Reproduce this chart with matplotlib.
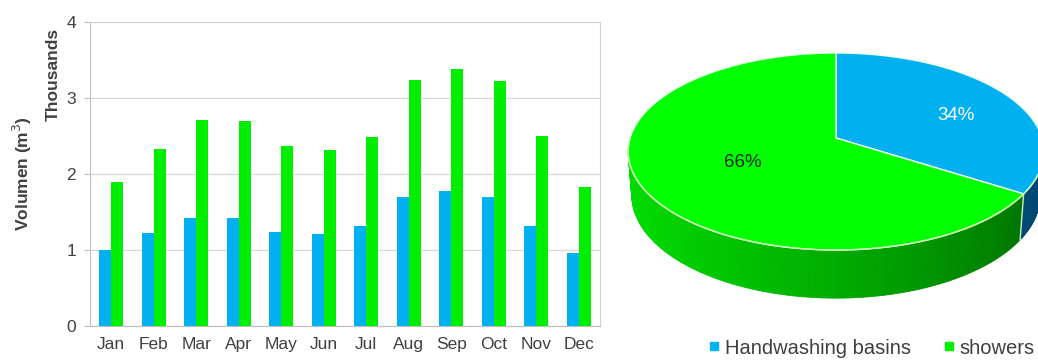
import matplotlib.pyplot as plt
import numpy as np
from matplotlib.lines import Line2D
from matplotlib.patches import Polygon

plt.rcParams["font.family"] = ["Liberation Sans", "DejaVu Sans"]

# %%
# Monthly volumes (thousands of m3).
months = ["Jan", "Feb", "Mar", "Apr", "May", "Jun", "Jul", "Aug", "Sep", "Oct", "Nov", "Dec"]
basins = [1.00, 1.22, 1.42, 1.42, 1.24, 1.21, 1.31, 1.70, 1.78, 1.70, 1.31, 0.96]
showers = [1.90, 2.33, 2.71, 2.70, 2.37, 2.31, 2.49, 3.24, 3.38, 3.22, 2.50, 1.83]

pie_labels = ["Handwashing basins", "showers"]
pie_shares = [34, 66]

BLUE = "#00b0f0"
GREEN = "#00ee00"
TXT = "#404040"

fig = plt.figure(figsize=(10.38, 3.6), dpi=100)

# %%
# Grouped bars.
ax = fig.add_axes([90 / 1038, 34 / 360, 510 / 1038, 304 / 360])
x = np.arange(len(months))
w = 0.28
ax.bar(x - w / 2, basins, w, color=BLUE, zorder=3)
ax.bar(x + w / 2, showers, w, color=GREEN, zorder=3)
ax.set_xlim(-0.5, len(months) - 0.5)
ax.set_ylim(0, 4)
ax.set_yticks([0, 1, 2, 3, 4])
ax.set_xticks(x, months)
ax.grid(axis="y", color="#d9d9d9", lw=0.9, zorder=0)
for sp in ax.spines.values():
    sp.set_color("#d0d0d0")
ax.spines["left"].set_color("#bfbfbf")
ax.spines["bottom"].set_color("#bfbfbf")
ax.tick_params(axis="y", length=4, color="#bfbfbf", labelsize=12.5, labelcolor=TXT, pad=6)
ax.tick_params(axis="x", length=0, labelsize=12.5, labelcolor=TXT, pad=8)
fig.text(53 / 1038, 1 - 74 / 360, "Thousands", rotation=90, ha="center", va="center",
         fontsize=12.5, fontweight="bold", color=TXT)
fig.text(22 / 1038, 1 - 174 / 360, "Volumen (m$^3$)", rotation=90, ha="center", va="center",
         fontsize=12.5, fontweight="bold", color=TXT)

# %%
# 3-D pie drawn with a simple perspective projection of a tilted disc.
pax = fig.add_axes([600 / 1038, 0, 438 / 1038, 1])
pax.set_xlim(600, 1038)
pax.set_ylim(360, 0)
pax.axis("off")

cx, cy = 836, 138
f, D, elev, T = 1326.0, 6.44, np.radians(28), 0.244
s, c = np.sin(elev), np.cos(elev)


def proj(xx, zz, h=0.0):
    v = zz * s + h * c
    ww = D + zz * c - h * s
    return cx + f * xx / ww, cy - f * v / ww


fracs = np.array(pie_shares, float) / sum(pie_shares)
bounds = 90 - 360 * np.concatenate([[0], np.cumsum(fracs)])
side_cols = [
    lambda u: (0.0, 0.28 + 0.12 * (1 - u), 0.45 + 0.15 * (1 - u)),
    lambda u: (0.0, 0.40 + 0.47 * (1 - u) ** 0.8, 0.0),
]

# side walls, only the near half (angles -180..0) is visible
for i in range(len(fracs)):
    a0, a1 = bounds[i], bounds[i + 1]
    lo, hi = max(min(a0, a1), -180), min(max(a0, a1), 0)
    if lo >= hi:
        lo, hi = max(min(a0, a1) + 360, -180), min(max(a0, a1) + 360, 0)
    ts = np.radians(np.linspace(lo, hi, 120))
    for t0, t1 in zip(ts[:-1], ts[1:]):
        p = [proj(np.cos(t0), np.sin(t0)), proj(np.cos(t1), np.sin(t1)),
             proj(np.cos(t1), np.sin(t1), -T), proj(np.cos(t0), np.sin(t0), -T)]
        u = (np.cos(t0) + 1) / 2
        pax.add_patch(Polygon(p, closed=True, fc=side_cols[i](u), ec=side_cols[i](u), lw=0.6))

# vertical edge where the two slices meet on the wall
tb = np.radians(bounds[1])
pax.plot(*zip(proj(np.cos(tb), np.sin(tb)), proj(np.cos(tb), np.sin(tb), -T)),
         color="#c8f0c8", lw=1)

# top faces
top_cols = [BLUE, "#00ff00"]
for i in range(len(fracs)):
    ts = np.radians(np.linspace(bounds[i], bounds[i + 1], 200))
    pts = [proj(0, 0)] + [proj(np.cos(t), np.sin(t)) for t in ts]
    pax.add_patch(Polygon(pts, closed=True, fc=top_cols[i], ec="#e8ffe8", lw=1.0))

# rim highlight
ts = np.radians(np.linspace(-180, 0, 200))
pax.plot(*zip(*[proj(np.cos(t), np.sin(t)) for t in ts]), color="#c8ffb0", lw=1)

# data labels ("best fit" placement, nudged like the original)
lab_cols = ["white", "#1a2a1a"]
lab_r = [0.65, 0.5]
lab_shift = [-7, 0]
for i in range(len(fracs)):
    tm = np.radians((bounds[i] + bounds[i + 1]) / 2 + lab_shift[i])
    px, py = proj(lab_r[i] * np.cos(tm), lab_r[i] * np.sin(tm))
    pax.text(px, py, f"{pie_shares[i]}%", ha="center", va="center", fontsize=13.5,
             color=lab_cols[i])

handles = [Line2D([], [], ls="", marker="s", ms=6, color=col) for col in (BLUE, GREEN)]
fig.legend(handles, pie_labels, loc="center", bbox_to_anchor=(872 / 1038, 12 / 360), ncol=2,
           frameon=False, fontsize=14.5, handlelength=0.5, handletextpad=0.3, columnspacing=1.6,
           labelcolor=TXT)

fig.savefig("out.png", dpi=100)
